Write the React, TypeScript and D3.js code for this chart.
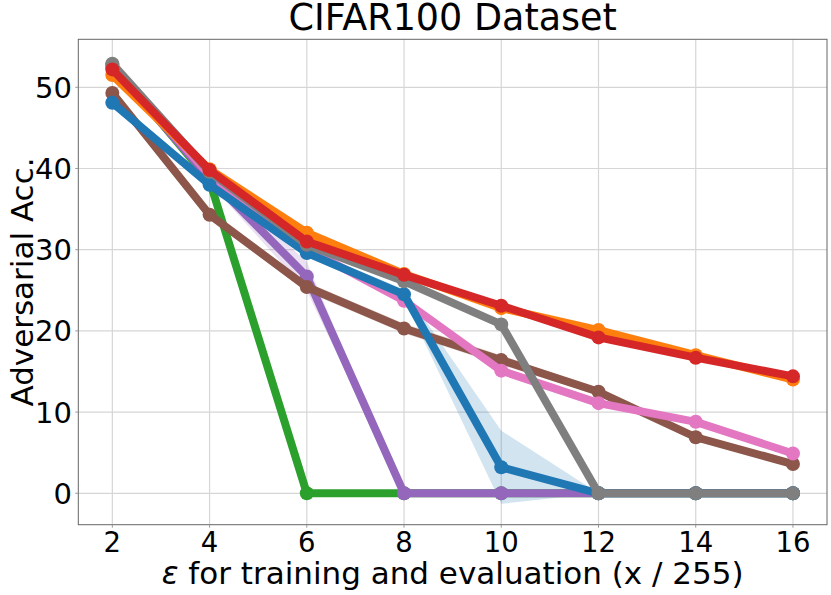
import * as d3 from "d3";
import React from "react";

// epsilon values (x / 255)
const eps = [2, 4, 6, 8, 10, 12, 14, 16];

// mean adversarial accuracy per method
const blueAcc = [48.1, 38.0, 29.6, 24.5, 3.2, 0, 0, 0];
const orangeAcc = [51.5, 39.9, 32.1, 27.0, 22.8, 20.1, 17.0, 14.0];
const greenAcc = [52.8, 38.5, 0, 0, 0, 0, 0, 0];
const redAcc = [52.2, 39.8, 31.0, 26.9, 23.1, 19.2, 16.7, 14.4];
const purpleAcc = [52.5, 38.8, 26.7, 0, 0, 0, 0, 0];
const brownAcc = [49.3, 34.3, 25.4, 20.3, 16.4, 12.5, 6.9, 3.6];
const pinkAcc = [52.6, 39.2, 30.1, 23.7, 15.1, 11.1, 8.8, 4.9];
const grayAcc = [52.9, 39.6, 30.6, 26.1, 20.8, 0, 0, 0];

// std (shaded band)
const blueStd = [0.3, 0.4, 0.5, 0.6, 4.5, 0, 0, 0];
const orangeStd = [0.3, 0.3, 0.4, 0.4, 0.4, 0.3, 0.3, 0.3];
const greenStd = [0.2, 0.3, 0, 0, 0, 0, 0, 0];
const redStd = [0.3, 0.3, 0.3, 0.3, 0.3, 0.3, 0.3, 0.3];
const purpleStd = [0.3, 0.6, 1.8, 0, 0, 0, 0, 0];
const brownStd = [0.3, 0.4, 0.6, 0.6, 0.6, 0.4, 0.4, 0.3];
const pinkStd = [0.3, 0.3, 0.4, 0.4, 0.4, 0.4, 0.3, 0.3];
const grayStd = [0.2, 0.3, 0.3, 0.3, 0.3, 0, 0, 0];

const xTicks = [2, 4, 6, 8, 10, 12, 14, 16];
const yTicks = [0, 10, 20, 30, 40, 50];

// drawing order (bottom to top)
const series = [
  { color: "#2ca02c", acc: greenAcc, std: greenStd },
  { color: "#9467bd", acc: purpleAcc, std: purpleStd },
  { color: "#8c564b", acc: brownAcc, std: brownStd },
  { color: "#e377c2", acc: pinkAcc, std: pinkStd },
  { color: "#1f77b4", acc: blueAcc, std: blueStd },
  { color: "#ff7f0e", acc: orangeAcc, std: orangeStd },
  { color: "#7f7f7f", acc: grayAcc, std: grayStd },
  { color: "#d62728", acc: redAcc, std: redStd },
];

const W = 831;
const H = 595;
const left = 78.3;
const right = 827;
const top = 39.3;
const bottom = 524.7;
const font = "DejaVu Sans";

export default function App() {
  const x = d3.scaleLinear().domain([1.3, 16.7]).range([left, right]);
  const y = d3.scaleLinear().domain([-3.87, 55.91]).range([bottom, top]);

  const line = d3
    .line<number>()
    .x((_, i) => x(eps[i]))
    .y((d) => y(d));

  const band = (acc: number[], std: number[]) =>
    d3
      .area<number>()
      .x((_, i) => x(eps[i]))
      .y0((d, i) => y(d - std[i]))
      .y1((d, i) => y(d + std[i]))(acc) ?? "";

  return (
    <svg
      width={W}
      height={H}
      style={{ position: "absolute", left: 0, top: 0, background: "#fff" }}
      fontFamily={font}
    >
      <rect x={0} y={0} width={W} height={H} fill="#fff" />
      {/* grid */}
      {xTicks.map((t) => (
        <line key={"gx" + t} x1={x(t)} x2={x(t)} y1={top} y2={bottom} stroke="#d6d6d6" strokeWidth={1.2} />
      ))}
      {yTicks.map((t) => (
        <line key={"gy" + t} x1={left} x2={right} y1={y(t)} y2={y(t)} stroke="#d6d6d6" strokeWidth={1.2} />
      ))}

      {/* bands */}
      {series.map((s, i) => (
        <path key={"b" + i} d={band(s.acc, s.std)} fill={s.color} fillOpacity={0.2} stroke="none" />
      ))}

      {/* lines and markers */}
      {series.map((s, i) => (
        <g key={"s" + i}>
          <path d={line(s.acc) ?? ""} fill="none" stroke={s.color} strokeWidth={8} strokeLinejoin="round" />
          {s.acc.map((v, j) => (
            <circle key={j} cx={x(eps[j])} cy={y(v)} r={7} fill={s.color} />
          ))}
        </g>
      ))}

      {/* spines */}
      <rect x={left} y={top} width={right - left} height={bottom - top} fill="none" stroke="#666" strokeWidth={1} />
      {yTicks.map((t) => (
        <line key={"ky" + t} x1={left - 3} x2={left} y1={y(t)} y2={y(t)} stroke="#999" strokeWidth={1} />
      ))}
      {xTicks.map((t) => (
        <line key={"kx" + t} x1={x(t)} x2={x(t)} y1={bottom} y2={bottom + 3} stroke="#999" strokeWidth={1} />
      ))}

      {/* tick labels */}
      {xTicks.map((t) => (
        <text key={"tx" + t} x={x(t)} y={552} fontSize={27.5} textAnchor="middle" fill="#000">
          {t}
        </text>
      ))}
      {yTicks.map((t) => (
        <text key={"ty" + t} x={72} y={y(t)} dy="0.36em" fontSize={29} textAnchor="end" fill="#000">
          {t}
        </text>
      ))}

      {/* labels */}
      <text x={(left + right) / 2} y={30} fontSize={36.5} textAnchor="middle" fill="#000">
        CIFAR100 Dataset
      </text>
      <text x={(left + right) / 2} y={584} fontSize={31} textAnchor="middle" fill="#000">
        <tspan fontStyle="italic">ε</tspan> for training and evaluation (x / 255)
      </text>
      <text
        transform={`translate(33, ${(top + bottom) / 2}) rotate(-90)`}
        fontSize={31}
        textAnchor="middle"
        fill="#000"
      >
        Adversarial Acc.
      </text>
    </svg>
  );
}
